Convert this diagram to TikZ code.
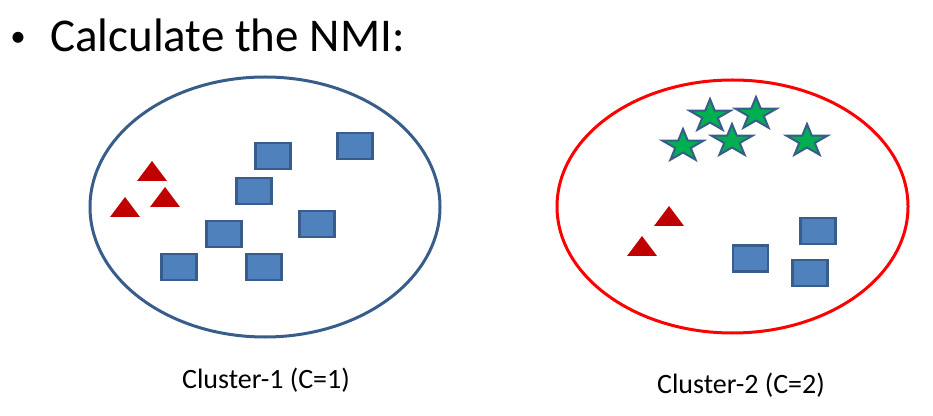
\documentclass[tikz,border=0pt]{standalone}
\usepackage{fontspec}
\setmainfont{Carlito}
\usetikzlibrary{positioning}
\definecolor{boxblue}{HTML}{4F81BD}
\definecolor{edgeblue}{HTML}{385D8A}
\definecolor{trired}{HTML}{C00000}
\definecolor{stargreen}{HTML}{00B050}

\begin{document}
\begin{tikzpicture}[x=1pt, y=1pt,
        boxnode/.style={rectangle, fill=boxblue, draw=edgeblue, line width=2.2pt, minimum width=35pt, minimum height=26pt, inner sep=0pt},
        caption/.style={font=\fontsize{28}{30}\selectfont, inner sep=0pt, anchor=base},
        trimark/.pic={\fill[trired] (-15,-10) -- (15,-10) -- (0,10) -- cycle;},
        starmark/.pic={\draw[fill=stargreen, draw=edgeblue, line width=2pt, xscale=1.26]
            (90:17) -- (126:6.5) -- (162:17) -- (198:6.5) -- (234:17) -- (270:6.5)
            -- (306:17) -- (342:6.5) -- (18:17) -- (54:6.5) -- cycle;}
    ]
        \useasboundingbox (0,0) rectangle (933,415);

        % Title
        \node[anchor=base, inner sep=0pt, font=\fontsize{31}{34}\selectfont] (bullet) at (18,368) {•};
        \node[anchor=base west, inner sep=0pt, font=\fontsize{47}{50}\selectfont] (title) at (50,363) {Calculate the NMI:};

        % Cluster 1
        \draw[edgeblue, line width=3pt] (265,208) ellipse [x radius=175pt, y radius=130pt];
        \node[boxnode] (b1) at (273,259) {};
        \node[boxnode] (b2) at (355,269) {};
        \node[boxnode] (b3) at (254,224) {};
        \node[boxnode] (b4) at (317,191) {};
        \node[boxnode] (b5) at (224,181) {};
        \node[boxnode] (b6) at (179,148) {};
        \node[boxnode] (b7) at (264,148) {};
        \pic at (152,244) {trimark};
        \pic at (165,218) {trimark};
        \pic at (125,208) {trimark};
        \node[caption] (cap1) at (266,27) {Cluster-1 (C=1)};

        % Cluster 2
        \draw[red, line width=3pt] (732.5,208.5) ellipse [x radius=175.5pt, y radius=126.5pt];
        \pic at (710,299) {starmark};
        \pic at (756,301) {starmark};
        \pic at (683,269) {starmark};
        \pic at (732,274) {starmark};
        \pic at (807,274) {starmark};
        \pic at (669,199) {trimark};
        \pic at (642,169) {trimark};
        \node[boxnode] (b8) at (750.5,156.5) {};
        \node[boxnode] (b9) at (818,184) {};
        \node[boxnode] (b10) at (810,142) {};
        \node[caption] (cap2) at (741,22) {Cluster-2 (C=2)};
    \end{tikzpicture}
\end{document}
